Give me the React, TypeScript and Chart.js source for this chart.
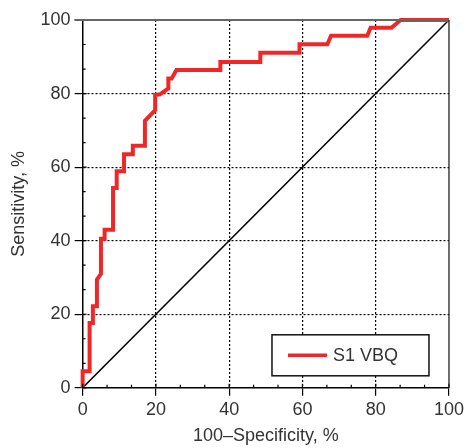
import React, { useEffect, useRef } from "react";
import { Chart, registerables } from "chart.js";

Chart.register(...registerables);

const seriesLabel = "S1 VBQ";
const fprValues = [0, 0, 1.9, 1.9, 2.8, 2.8, 3.9, 3.9, 5.0, 5.0, 6.0, 6.0, 8.3, 8.3, 9.3, 9.3, 11.3, 11.3, 13.7, 13.7, 17.0, 17.0, 19.8, 19.8, 21.1, 23.4, 23.4, 24.3, 25.6, 37.6, 37.6, 48.5, 48.5, 59.2, 59.2, 66.8, 67.8, 77.7, 78.6, 84.3, 86.8, 100];
const tprValues = [0, 4.5, 4.5, 17.6, 17.6, 22.2, 22.2, 29.4, 31.0, 40.5, 40.5, 43.0, 43.0, 54.3, 54.3, 58.9, 58.9, 63.5, 63.5, 65.8, 65.8, 72.6, 75.5, 79.6, 79.8, 81.4, 84.1, 84.1, 86.4, 86.4, 88.6, 88.6, 91.1, 91.1, 93.4, 93.4, 95.7, 95.7, 97.9, 97.9, 100, 100];
const refX = [0, 100];
const refY = [0, 100];
const majorTicks = [0, 20, 40, 60, 80, 100];
const xTitle = "100\u2013Specificity, %";
const yTitle = "Sensitivity, %";

const FONT = "'Liberation Sans', Arial, Helvetica, sans-serif";
const RED = "rgb(238,40,40)";
const TEXT = "#333";

const framePlugin = {
  id: "frame",
  afterDatasetsDraw(chart: any) {
    const { ctx, chartArea: a, scales } = chart;
    const xs = scales.x;
    const ys = scales.y;
    ctx.save();
    ctx.strokeStyle = "#000";
    ctx.lineWidth = 1.2;
    for (let i = 0; i < majorTicks.length; i++) {
      const v = majorTicks[i];
      const px = xs.getPixelForValue(v);
      const py = ys.getPixelForValue(v);
      ctx.beginPath();
      ctx.moveTo(px, a.bottom);
      ctx.lineTo(px, a.bottom - 4);
      ctx.moveTo(a.left, py);
      ctx.lineTo(a.left + 4, py);
      ctx.stroke();
      if (i < majorTicks.length - 1) {
        const step = (majorTicks[i + 1] - v) / 3;
        for (let k = 1; k < 3; k++) {
          const mv = v + step * k;
          const mx = xs.getPixelForValue(mv);
          const my = ys.getPixelForValue(mv);
          ctx.beginPath();
          ctx.moveTo(mx, a.bottom);
          ctx.lineTo(mx, a.bottom - 3);
          ctx.moveTo(a.left, my);
          ctx.lineTo(a.left + 3, my);
          ctx.stroke();
        }
      }
    }
    ctx.strokeStyle = "#666";
    ctx.lineWidth = 2;
    ctx.beginPath();
    ctx.moveTo(a.left - 8, a.top);
    ctx.lineTo(a.right, a.top);
    ctx.stroke();
    ctx.strokeStyle = "#222";
    ctx.lineWidth = 1.3;
    ctx.beginPath();
    ctx.moveTo(a.right, a.top);
    ctx.lineTo(a.right, a.bottom);
    ctx.stroke();
    ctx.restore();
  },
  afterDraw(chart: any) {
    const { ctx, chartArea: a } = chart;
    const w = 157;
    const h = 41;
    const x0 = a.right - 20 - w;
    const y0 = a.bottom - 12 - h;
    ctx.save();
    ctx.fillStyle = "#fff";
    ctx.fillRect(x0, y0, w, h);
    ctx.strokeStyle = "#111";
    ctx.lineWidth = 1.5;
    ctx.strokeRect(x0, y0, w, h);
    const cy = y0 + h / 2;
    ctx.strokeStyle = RED;
    ctx.lineWidth = 3.5;
    ctx.beginPath();
    ctx.moveTo(x0 + 16, cy);
    ctx.lineTo(x0 + 55, cy);
    ctx.stroke();
    ctx.fillStyle = TEXT;
    ctx.font = `18px ${FONT}`;
    ctx.textBaseline = "middle";
    ctx.textAlign = "left";
    ctx.fillText(chart.data.datasets[0].label, x0 + 61, cy + 1);
    ctx.restore();
  },
};

export default function App() {
  const ref = useRef<HTMLCanvasElement | null>(null);
  useEffect(() => {
    if (!ref.current) return;
    const gridColor = (c: any) =>
      c.tick && (c.tick.value === 0 || c.tick.value === 100) ? "rgba(0,0,0,0)" : "#000";
    const axis = (title: string, isY: boolean) => ({
      type: "linear" as const,
      min: 0,
      max: 100,
      ticks: { stepSize: 20, color: TEXT, font: { family: FONT, size: 18 }, padding: isY ? 4 : 3 },
      grid: {
        color: gridColor,
        lineWidth: 1.2,
        tickLength: 8,
        tickColor: "#000",
        tickWidth: 1.2,
      },
      border: { display: true, color: "#000", width: 1.5, dash: [2, 2] },
      title: {
        display: true,
        text: title,
        color: TEXT,
        font: { family: FONT, size: 18 },
        padding: isY ? { top: 4, bottom: 7 } : { top: 2, bottom: 1 },
      },
    });
    const chart = new Chart(ref.current, {
      type: "line",
      data: {
        datasets: [
          {
            label: seriesLabel,
            data: fprValues.map((x, i) => ({ x, y: tprValues[i] })),
            borderColor: RED,
            borderWidth: 4,
            pointRadius: 0,
            tension: 0,
            clip: false as any,
          },
          {
            label: "reference",
            data: refX.map((x, i) => ({ x, y: refY[i] })),
            borderColor: "#000",
            borderWidth: 1.5,
            pointRadius: 0,
            tension: 0,
          },
        ],
      },
      options: {
        animation: false,
        responsive: true,
        maintainAspectRatio: false,
        layout: { padding: { top: 20, right: 1, left: 4, bottom: 0 } },
        plugins: { legend: { display: false }, tooltip: { enabled: false } },
        scales: { x: axis(xTitle, false), y: axis(yTitle, true) },
      },
      plugins: [framePlugin],
    });
    return () => chart.destroy();
  }, []);
  return (
    <div style={{ position: "absolute", left: 0, top: 0, width: 467, height: 448, background: "#fff" }}>
      <canvas ref={ref} />
    </div>
  );
}
